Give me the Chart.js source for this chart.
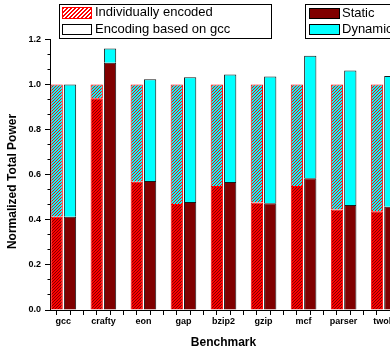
<!DOCTYPE html>
<html>
<head>
<meta charset="utf-8">
<script src="https://cdn.jsdelivr.net/npm/chart.js@4"></script>
<style>
  html, body { margin: 0; padding: 0; background: #fff; overflow: hidden; }
  #wrap { width: 400px; height: 353px; }
</style>
</head>
<body>
<div id="wrap"><canvas id="chart" width="400" height="353"></canvas></div>
<script>
const benchmarks = ['gcc', 'crafty', 'eon', 'gap', 'bzip2', 'gzip', 'mcf', 'parser', 'twolf'];
// individually encoded: static part, total (normalized to 1)
const indStatic = [0.414, 0.939, 0.569, 0.470, 0.550, 0.477, 0.550, 0.446, 0.438];
const indTotal = [1.0, 1.0, 1.0, 1.0, 1.0, 1.0, 1.0, 1.0, 1.0];
// encoding based on gcc: static part, total
const gccStatic = [0.414, 1.097, 0.572, 0.479, 0.568, 0.474, 0.585, 0.466, 0.458];
const gccTotal = [1.0, 1.160, 1.024, 1.033, 1.045, 1.036, 1.128, 1.063, 1.038];
const legendLeft = ['Individually encoded', 'Encoding based on gcc'];
const legendRight = ['Static', 'Dynamic'];
const yTitle = 'Normalized Total Power';
const xTitle = 'Benchmark';

const FONT = '"Liberation Sans", Arial, sans-serif';
const DARKRED = '#800000';
const CYAN = '#00ffff';
const RED = '#ff0000';

// crisp "///" hatching: tile of n px, pixels on stripe get `line`
function hatch(bg, line, n, onStripe) {
    const c = document.createElement('canvas');
    c.width = n;
    c.height = n;
    const g = c.getContext('2d');
    g.fillStyle = bg;
    g.fillRect(0, 0, n, n);
    g.fillStyle = line;
    for (let x = 0; x < n; x++) {
        for (let y = 0; y < n; y++) {
            if (onStripe((x + y) % n)) g.fillRect(x, y, 1, 1);
        }
    }
    return g.createPattern(c, 'repeat');
}

const xMin = -1 / 3, xMax = benchmarks.length - 1 + 1 / 3;

const datasets = [
    {
        label: 'Static', stack: 'ind', xAxisID: 'x',
        data: indStatic.map((v, i) => ({ x: i, y: v })),
        backgroundColor: hatch(RED, DARKRED, 3, r => r === 0), borderColor: RED, borderWidth: 1
    },
    {
        label: 'Dynamic', stack: 'ind', xAxisID: 'x',
        data: indTotal.map((t, i) => ({ x: i, y: t - indStatic[i] })),
        backgroundColor: hatch(CYAN, RED, 3, r => r === 0), borderColor: RED, borderWidth: 1
    },
    {
        label: 'Static', stack: 'gcc', xAxisID: 'x',
        data: gccStatic.map((v, i) => ({ x: i, y: v })),
        backgroundColor: DARKRED, borderColor: '#1a1a1a', borderWidth: 1
    },
    {
        label: 'Dynamic', stack: 'gcc', xAxisID: 'x',
        data: gccTotal.map((t, i) => ({ x: i, y: t - gccStatic[i] })),
        backgroundColor: CYAN, borderColor: '#1a1a1a', borderWidth: 1
    }
];

// the two boxed legends and the y title
const decorations = {
    id: 'decorations',
    afterDraw(chart) {
        const g = chart.ctx;
        g.save();
        g.lineWidth = 1;
        g.strokeStyle = '#000';
        g.strokeRect(59.5, 4.5, 212, 34);
        g.strokeRect(305.5, 4.5, 92, 34);

        g.fillStyle = hatch('#ffffff', RED, 4, r => r >= 2);
        g.fillRect(62.5, 7.5, 29, 11);
        g.strokeStyle = RED;
        g.strokeRect(62.5, 7.5, 29, 11);
        g.fillStyle = '#fff';
        g.fillRect(62.5, 24.5, 29, 10);
        g.strokeStyle = '#000';
        g.strokeRect(62.5, 24.5, 29, 10);

        g.fillStyle = DARKRED;
        g.fillRect(309.5, 8.5, 30, 10);
        g.strokeRect(309.5, 8.5, 30, 10);
        g.fillStyle = CYAN;
        g.fillRect(309.5, 24.5, 30, 10);
        g.strokeRect(309.5, 24.5, 30, 10);

        g.fillStyle = '#000';
        g.font = '13px ' + FONT;
        g.textBaseline = 'middle';
        g.textAlign = 'left';
        g.fillText(legendLeft[0], 95, 12.5);
        g.fillText(legendLeft[1], 95, 29.5);
        g.fillText(legendRight[0], 342, 13.5);
        g.fillText(legendRight[1], 342, 29.5);

        g.translate(13, 181.5);
        g.rotate(-Math.PI / 2);
        g.textAlign = 'center';
        g.font = 'bold 12px ' + FONT;
        g.fillText(yTitle, 0, 0);
        g.restore();
    }
};

const tickFont = { family: FONT, size: 9, weight: 'bold' };

new Chart(document.getElementById('chart'), {
    type: 'bar',
    data: { datasets },
    options: {
        responsive: false,
        animation: false,
        layout: { padding: { top: 39.5, right: 3, left: 0, bottom: 0 } },
        plugins: { legend: { display: false }, tooltip: { enabled: false } },
        datasets: { bar: { categoryPercentage: 2 / 3, barPercentage: 0.92 } },
        scales: {
            x: {
                type: 'linear', position: 'bottom', weight: 0, offset: false,
                min: xMin, max: xMax,
                grid: { offset: false, drawOnChartArea: false, tickLength: 5, tickColor: 'rgba(0,0,0,0)' },
                border: { display: true, color: '#000', width: 1 },
                ticks: {
                    autoSkip: false, maxRotation: 0, padding: 1, color: '#000', font: tickFont,
                    callback: v => benchmarks[v] !== undefined ? benchmarks[v] : ''
                },
                afterBuildTicks: a => { a.ticks = benchmarks.map((_, i) => ({ value: i })); },
                afterFit: a => { a.height = 43; a.paddingLeft = 0; a.paddingRight = 0; },
                title: {
                    display: true, text: xTitle, color: '#000',
                    font: { family: FONT, size: 12, weight: 'bold' },
                    padding: { top: 0, bottom: 3 }
                }
            },
            // tick marks under every bar and between benchmarks
            xt: {
                type: 'linear', axis: 'x', position: 'bottom', weight: -1, offset: false,
                min: xMin, max: xMax,
                grid: { offset: false, drawOnChartArea: false, tickLength: 5, tickColor: '#000' },
                border: { display: false },
                ticks: { display: false },
                afterBuildTicks: a => {
                    const t = [];
                    for (let m = -1; m <= 6 * xMax; m += 2) t.push({ value: m / 6 });
                    a.ticks = t;
                },
                afterFit: a => { a.height = 0; a.paddingLeft = 0; a.paddingRight = 0; }
            },
            y: {
                type: 'linear', min: 0, max: 1.2, stacked: true,
                grid: {
                    drawOnChartArea: false, tickLength: 5, tickColor: '#000',
                    tickBorderDash: c => (c.index % 3 === 0 ? [] : [0, 2.5, 2.5, 10])
                },
                border: { color: '#000', width: 1 },
                ticks: {
                    autoSkip: false, padding: 4, color: '#000', font: tickFont,
                    callback: (v, i) => (i % 3 === 0 ? v.toFixed(1) : '')
                },
                afterBuildTicks: a => { a.ticks = Array.from({ length: 19 }, (_, k) => ({ value: k / 15 })); },
                afterFit: a => { a.width = 50; a.paddingTop = 0; a.paddingBottom = 0; }
            }
        }
    },
    plugins: [decorations]
});
</script>
</body>
</html>
